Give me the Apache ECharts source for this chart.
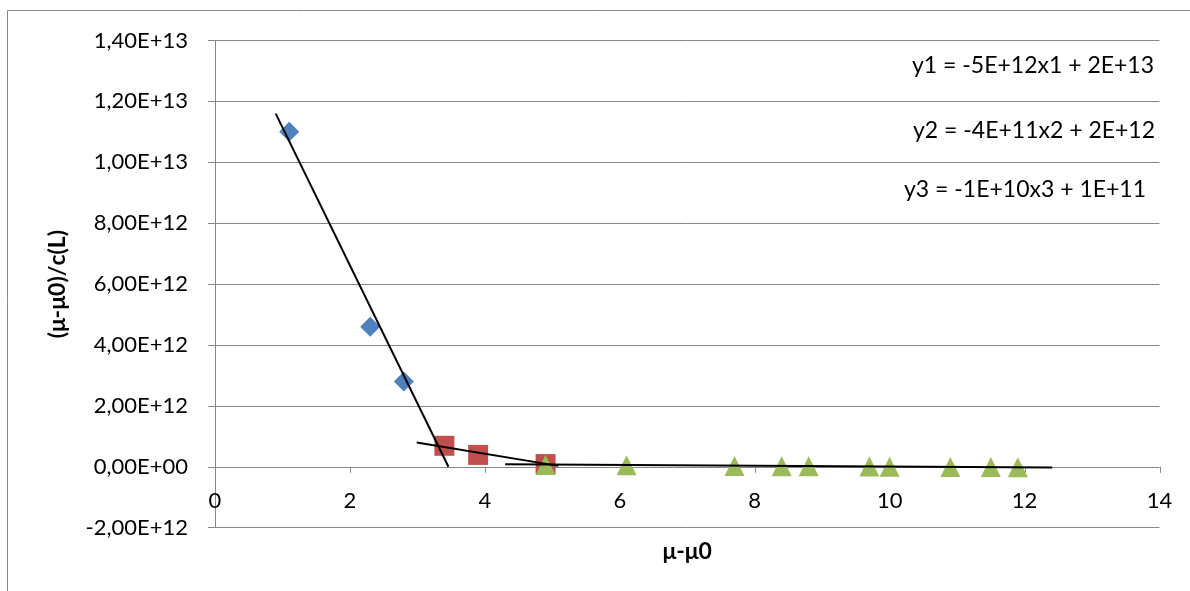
<!DOCTYPE html>
<html>
<head>
<meta charset="utf-8">
<script src="https://cdn.jsdelivr.net/npm/echarts@6/dist/echarts.min.js"></script>
<style>
  html, body { margin: 0; padding: 0; background: #ffffff; }
  #chart { width: 1190px; height: 591px; }
</style>
</head>
<body>
<div id="chart"></div>
<script>
// Series 1 (diamonds)
const x1 = [1.10, 2.30, 2.80];
const y1 = [11.0e12, 4.60e12, 2.80e12];
// Series 2 (squares)
const x2 = [3.40, 3.90, 4.90];
const y2 = [0.69e12, 0.39e12, 0.09e12];
// Series 3 (triangles)
const x3 = [4.90, 6.10, 7.70, 8.40, 8.80, 9.70, 10.0, 10.9, 11.5, 11.9];
const y3 = [0.06e12, 0.05e12, 0.03e12, 0.02e12, 0.015e12, 0.01e12, 0.005e12, -0.005e12, -0.01e12, -0.015e12];

// Linear trendlines, as drawn over their extended x ranges
const trend1 = [[0.90, 11.6e12], [3.46, 0]];
const trend2 = [[2.99, 0.80e12], [5.09, 0.03e12]];
const trend3 = [[4.30, 0.085e12], [12.41, -0.025e12]];

// Trendline equations
const trendLabels = [
  'y1 = -5E+12x1 + 2E+13',
  'y2 = -4E+11x2 + 2E+12',
  'y3 = -1E+10x3 + 1E+11'
];

// Axis settings
const xMin = 0, xMax = 14, xStep = 2;
const yMin = -2e12, yMax = 1.4e13, yStep = 2e12;
const xTicks = [0, 2, 4, 6, 8, 10, 12, 14];
const xTitle = 'μ-μ0';
const yTitle = '(μ-μ0)/c(L)';

const FONT = 'Lato, "Open Sans", sans-serif';
const GRID_GRAY = '#868686';

function zip(xs, ys) { return xs.map((x, i) => [x, ys[i]]); }

// Scientific notation with a decimal comma, e.g. 1,40E+13
function sci(v) {
  if (v === 0) return '0,00E+00';
  const a = Math.abs(v);
  let e = Math.floor(Math.log10(a) + 1e-9);
  let m = a / Math.pow(10, e);
  if (Number(m.toFixed(2)) >= 10) { m /= 10; e += 1; }
  const exp = (e < 0 ? '-' : '+') + String(Math.abs(e)).padStart(2, '0');
  return (v < 0 ? '-' : '') + m.toFixed(2).replace('.', ',') + 'E' + exp;
}

const chart = echarts.init(document.getElementById('chart'), null, { renderer: 'canvas' });

const trendLine = (data) => ({
  type: 'line',
  data: data,
  showSymbol: false,
  symbol: 'none',
  lineStyle: { color: '#000000', width: 2 },
  z: 5,
  animation: false
});

chart.setOption({
  animation: false,
  backgroundColor: '#ffffff',
  grid: { left: 215, right: 30.5, top: 40.5, bottom: 63.3, outerBoundsMode: 'none', containLabel: false },
  xAxis: {
    type: 'value',
    min: xMin, max: xMax, interval: xStep,
    name: xTitle,
    nameLocation: 'middle',
    nameGap: 12,
    nameTextStyle: { fontFamily: FONT, fontSize: 23, fontWeight: 'bold', color: '#000', verticalAlign: 'top' },
    axisLine: { show: false, onZero: false },
    axisTick: { show: false },
    axisLabel: { inside: true, fontFamily: FONT, fontSize: 22, color: '#000', margin: 16 },
    splitLine: { show: false }
  },
  yAxis: {
    type: 'value',
    min: yMin, max: yMax, interval: yStep,
    name: yTitle,
    nameLocation: 'middle',
    nameGap: 146,
    nameTextStyle: { fontFamily: FONT, fontSize: 23, fontWeight: 'bold', color: '#000' },
    axisLine: { show: true, onZero: false, lineStyle: { color: GRID_GRAY, width: 1 } },
    axisTick: { show: true, length: 7, lineStyle: { color: GRID_GRAY } },
    axisLabel: { fontFamily: FONT, fontSize: 22, color: '#000', margin: 27, formatter: sci },
    splitLine: { show: true, lineStyle: { color: GRID_GRAY, width: 1 } }
  },
  series: [
    // tick marks hanging below the zero line of the value axis
    {
      type: 'custom',
      data: xTicks.map(v => [v, 0]),
      silent: true,
      z: 1,
      renderItem: function (params, api) {
        const p = api.coord([api.value(0), api.value(1)]);
        const x = Math.round(p[0]) + 0.5;
        return {
          type: 'line',
          shape: { x1: x, y1: p[1], x2: x, y2: p[1] + 6 },
          style: { stroke: GRID_GRAY, lineWidth: 1 }
        };
      }
    },
    {
      type: 'scatter', data: zip(x1, y1),
      symbol: 'diamond', symbolSize: [20, 20],
      itemStyle: { color: '#4F81BD', opacity: 1 }, z: 3
    },
    {
      type: 'scatter', data: zip(x2, y2),
      symbol: 'rect', symbolSize: [20, 20],
      itemStyle: { color: '#C0504D', opacity: 1 }, z: 3
    },
    {
      type: 'scatter', data: zip(x3, y3),
      symbol: 'triangle', symbolSize: [20, 20],
      itemStyle: { color: '#9BBB59', opacity: 1 }, z: 3
    },
    trendLine(trend1),
    trendLine(trend2),
    trendLine(trend3)
  ],
  graphic: [
    {
      type: 'rect', silent: true, z: -1,
      shape: { x: 7.5, y: 10.5, width: 1300, height: 700 },
      style: { fill: null, stroke: GRID_GRAY, lineWidth: 1 }
    },
    {
      type: 'text', left: 912, top: 54, silent: true,
      style: { text: trendLabels[0], font: '23px ' + FONT, fill: '#000' }
    },
    {
      type: 'text', left: 913, top: 119, silent: true,
      style: { text: trendLabels[1], font: '23px ' + FONT, fill: '#000' }
    },
    {
      type: 'text', left: 904, top: 178, silent: true,
      style: { text: trendLabels[2], font: '23px ' + FONT, fill: '#000' }
    }
  ]
});
</script>
</body>
</html>
